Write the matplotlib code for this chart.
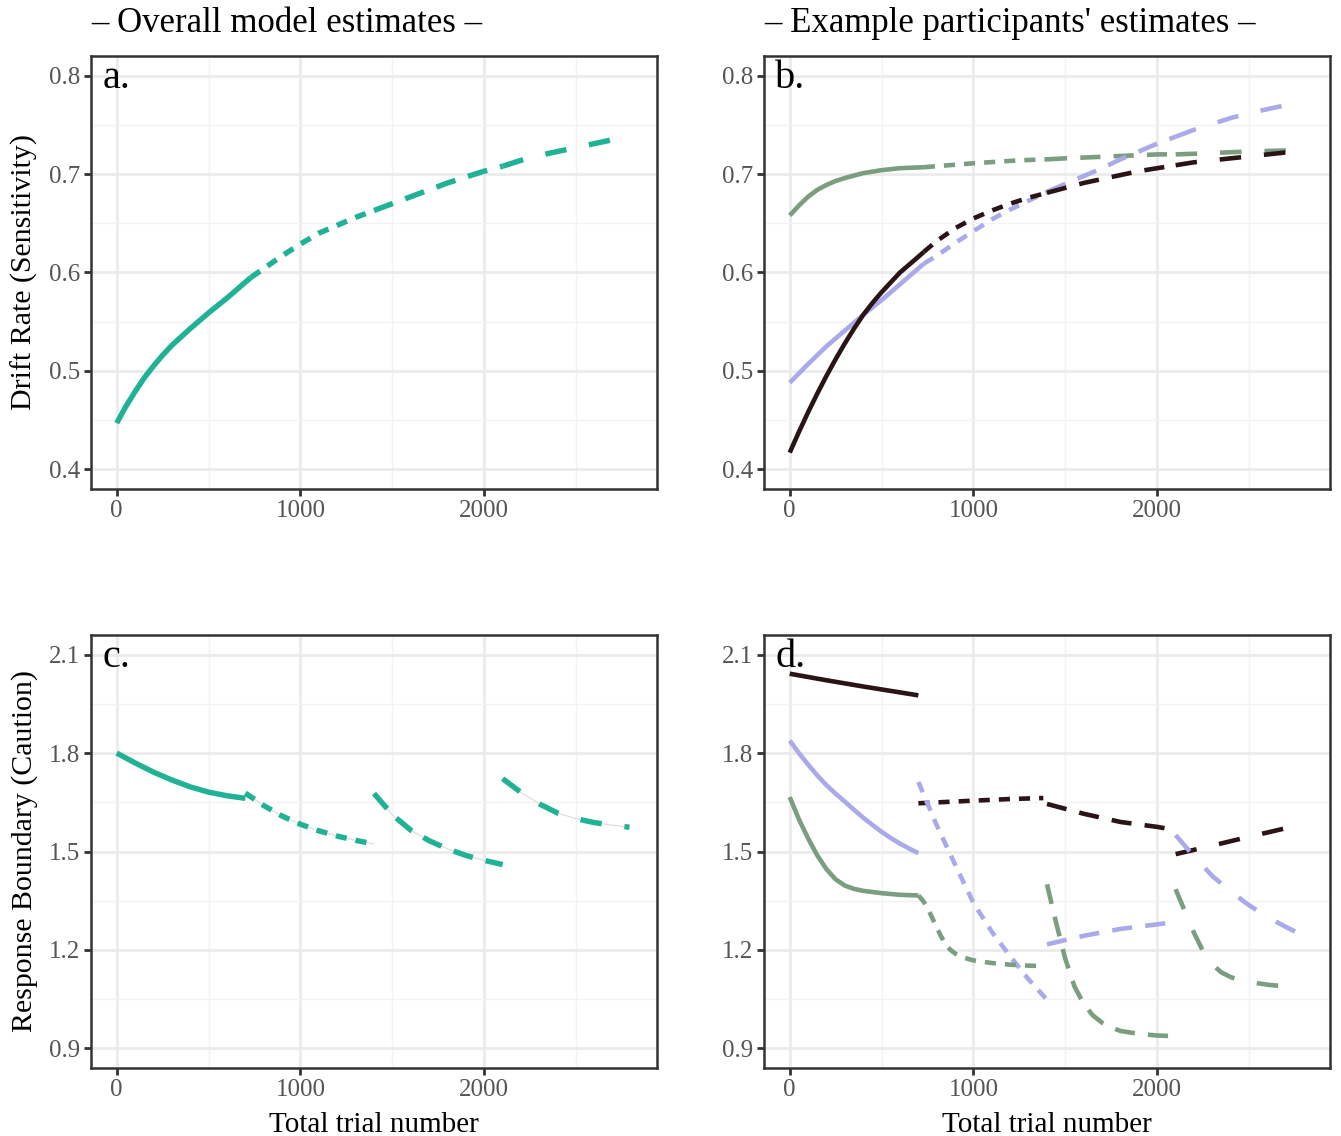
import matplotlib
matplotlib.use("Agg")
import matplotlib.pyplot as plt
from matplotlib.ticker import MultipleLocator

plt.rcParams['font.family'] = ['Liberation Serif', 'DejaVu Serif']
plt.rcParams['lines.scale_dashes'] = False

# --- colours
TEAL = '#1fb294'
GREEN = '#7a9e7f'
LAV = '#aaaaea'
DARK = '#2b1416'

# --- panel a: overall drift rate, one list per session
a_x1 = [0, 50, 100, 150, 200, 250, 300, 400, 500, 600, 730]
a_y1 = [0.447, 0.464, 0.479, 0.493, 0.505, 0.516, 0.526, 0.543, 0.559, 0.574, 0.595]
a_x2 = [730, 800, 900, 1000, 1100, 1200, 1300, 1400]
a_y2 = [0.595, 0.604, 0.617, 0.629, 0.640, 0.648, 0.656, 0.663]
a_x3 = [1400, 1500, 1600, 1700, 1800, 1900, 2000, 2100]
a_y3 = [0.663, 0.670, 0.677, 0.684, 0.691, 0.697, 0.703, 0.708]
a_x4 = [2100, 2200, 2300, 2400, 2500, 2600, 2700]
a_y4 = [0.708, 0.714, 0.719, 0.723, 0.727, 0.731, 0.735]

# --- panel b: participants' drift rate
b_green_x = [0, 50, 100, 150, 200, 250, 300, 400, 500, 600, 730,
             1000, 1250, 1400, 1500, 1750, 2000, 2100, 2250, 2500, 2700]
b_green_y = [0.658, 0.668, 0.677, 0.684, 0.689, 0.693, 0.696, 0.701, 0.704, 0.706, 0.707,
             0.711, 0.714, 0.715, 0.716, 0.718, 0.720, 0.720, 0.721, 0.723, 0.724]
b_lav_x = [0, 100, 200, 300, 400, 500, 600, 730,
           800, 900, 1000, 1100, 1200, 1300, 1400, 1500, 1600, 1700, 1800, 1900,
           2000, 2100, 2200, 2300, 2400, 2500, 2600, 2700]
b_lav_y = [0.488, 0.507, 0.525, 0.541, 0.557, 0.572, 0.588, 0.609,
           0.617, 0.630, 0.642, 0.654, 0.664, 0.673, 0.682, 0.690, 0.698, 0.706, 0.715, 0.723,
           0.731, 0.738, 0.745, 0.751, 0.757, 0.762, 0.766, 0.770]
b_dark_x = [0, 50, 100, 150, 200, 250, 300, 350, 400, 450, 500, 550, 600, 650, 700, 730,
            800, 900, 1000, 1100, 1200, 1300, 1400, 1500, 1600, 1700, 1800, 1900,
            2000, 2100, 2200, 2300, 2400, 2500, 2600, 2700]
b_dark_y = [0.417, 0.438, 0.458, 0.477, 0.495, 0.512, 0.528, 0.543, 0.557, 0.569, 0.580,
            0.590, 0.600, 0.608, 0.616, 0.621,
            0.632, 0.645, 0.655, 0.663, 0.670, 0.676, 0.681, 0.686, 0.691, 0.695, 0.699, 0.703,
            0.706, 0.709, 0.712, 0.714, 0.716, 0.718, 0.720, 0.722]
b_breaks = [0, 730, 1400, 2100, 2700]

# --- panel c: overall boundary, one list per session
c_x1 = [0, 100, 200, 300, 400, 500, 600, 700]
c_y1 = [1.800, 1.770, 1.742, 1.718, 1.697, 1.681, 1.670, 1.662]
c_x2 = [700, 800, 900, 1000, 1100, 1200, 1300, 1400]
c_y2 = [1.678, 1.640, 1.608, 1.583, 1.563, 1.547, 1.534, 1.523]
c_x3 = [1400, 1500, 1600, 1700, 1800, 1900, 2000, 2100]
c_y3 = [1.677, 1.612, 1.565, 1.533, 1.508, 1.488, 1.473, 1.460]
c_x4 = [2100, 2200, 2300, 2400, 2500, 2600, 2700, 2790]
c_y4 = [1.722, 1.680, 1.645, 1.617, 1.600, 1.588, 1.580, 1.574]

# --- panel d: participants' boundary, per session
d_dark = [
    ([0, 200, 400, 700], [2.042, 2.022, 2.003, 1.976]),
    ([700, 1000, 1200, 1380], [1.647, 1.655, 1.660, 1.663]),
    ([1400, 1600, 1800, 2000, 2080], [1.645, 1.615, 1.590, 1.575, 1.567]),
    ([2100, 2300, 2500, 2700], [1.492, 1.518, 1.545, 1.571]),
]
d_lav = [
    ([0, 50, 100, 150, 200, 250, 300, 350, 400, 450, 500, 550, 600, 650, 700],
     [1.838, 1.800, 1.765, 1.732, 1.702, 1.676, 1.652, 1.627, 1.603, 1.581, 1.560,
      1.541, 1.524, 1.509, 1.495]),
    ([700, 800, 900, 1000, 1100, 1200, 1300, 1400],
     [1.712, 1.580, 1.460, 1.343, 1.255, 1.180, 1.110, 1.048]),
    ([1400, 1600, 1800, 2000, 2100], [1.217, 1.243, 1.264, 1.278, 1.285]),
    ([2100, 2200, 2300, 2400, 2500, 2600, 2700, 2790],
     [1.550, 1.485, 1.425, 1.378, 1.336, 1.300, 1.270, 1.245]),
]
d_green = [
    ([0, 50, 100, 150, 200, 250, 300, 350, 400, 500, 600, 700],
     [1.666, 1.598, 1.540, 1.488, 1.446, 1.415, 1.396, 1.386, 1.380, 1.373, 1.368, 1.366]),
    ([700, 725, 750, 775, 800, 825, 850, 875, 900, 950, 1000, 1100, 1200, 1300, 1370],
     [1.366, 1.350, 1.328, 1.298, 1.268, 1.240, 1.215, 1.200, 1.189, 1.176, 1.168,
      1.160, 1.155, 1.152, 1.151]),
    ([1400, 1450, 1500, 1550, 1600, 1650, 1700, 1750, 1800, 1900, 2000, 2100],
     [1.400, 1.282, 1.172, 1.088, 1.035, 1.000, 0.978, 0.963, 0.953, 0.944, 0.939, 0.937]),
    ([2100, 2150, 2200, 2250, 2300, 2350, 2400, 2450, 2500, 2600, 2690],
     [1.385, 1.318, 1.252, 1.195, 1.155, 1.131, 1.117, 1.108, 1.102, 1.094, 1.089]),
]

# linetype per session (points)
STYLES = ['-', (0, (8, 6.5)), (0, (14.5, 9.5)), (0, (15.5, 16.5))]

fig = plt.figure(figsize=(13.41, 11.36), dpi=100)
L1, R1 = 91 / 1341, 657 / 1341
L2, R2 = 764 / 1341, 1330 / 1341
T1, B1 = 1 - 56 / 1136, 1 - 489 / 1136
T2, B2 = 1 - 635 / 1136, 1 - 1068 / 1136
ax_a = fig.add_axes([L1, B1, R1 - L1, T1 - B1])
ax_b = fig.add_axes([L2, B1, R2 - L2, T1 - B1])
ax_c = fig.add_axes([L1, B2, R1 - L1, T2 - B2])
ax_d = fig.add_axes([L2, B2, R2 - L2, T2 - B2])


def style_axes(ax, letter, top):
    ax.set_xlim(-140, 2940)
    if top:
        ax.set_ylim(0.38, 0.82)
        ax.yaxis.set_major_locator(MultipleLocator(0.1))
        ax.yaxis.set_minor_locator(MultipleLocator(0.05))
    else:
        ax.set_ylim(0.84, 2.16)
        ax.yaxis.set_major_locator(MultipleLocator(0.3))
        ax.yaxis.set_minor_locator(MultipleLocator(0.15))
    ax.xaxis.set_major_locator(MultipleLocator(1000))
    ax.xaxis.set_minor_locator(MultipleLocator(500))
    ax.grid(which='major', color='#ebebeb', lw=2.0, zorder=0)
    ax.grid(which='minor', color='#f3f3f3', lw=1.0, zorder=0)
    ax.set_axisbelow(True)
    for s in ax.spines.values():
        s.set_linewidth(1.8)
        s.set_color('#333333')
    ax.tick_params(which='major', length=5, width=2, color='#333333',
                   labelsize=18, labelcolor='#555555', pad=3)
    ax.tick_params(which='minor', length=0)
    ax.text(0.02, 0.99, letter, transform=ax.transAxes, ha='left', va='top',
            fontsize=29, color='black')


def draw_sessions(ax, sessions, color, lw):
    for (xs, ys), ls in zip(sessions, STYLES):
        ax.plot(xs, ys, color=color, lw=lw, ls=ls, solid_capstyle='butt',
                dash_capstyle='butt', zorder=3)


def split(xs, ys, breaks):
    out = []
    for lo, hi in zip(breaks[:-1], breaks[1:]):
        sx = [x for x in xs if lo <= x <= hi]
        sy = [y for x, y in zip(xs, ys) if lo <= x <= hi]
        out.append((sx, sy))
    return out


# panel a
draw_sessions(ax_a, [(a_x1, a_y1), (a_x2, a_y2), (a_x3, a_y3), (a_x4, a_y4)], TEAL, 3.9)
style_axes(ax_a, 'a.', True)
ax_a.set_ylabel('Drift Rate (Sensitivity)', fontsize=21.5)
ax_a.yaxis.set_label_coords(-0.094, 0.5)

# panel b
draw_sessions(ax_b, split(b_green_x, b_green_y, b_breaks), GREEN, 3.3)
draw_sessions(ax_b, split(b_lav_x, b_lav_y, b_breaks), LAV, 3.3)
draw_sessions(ax_b, split(b_dark_x, b_dark_y, b_breaks), DARK, 3.3)
style_axes(ax_b, 'b.', True)

# panel c
c_sessions = [(c_x1, c_y1), (c_x2, c_y2), (c_x3, c_y3), (c_x4, c_y4)]
for xs, ys in c_sessions[1:]:
    ax_c.plot(xs, ys, color='#dcdcdc', lw=0.8, zorder=2)
draw_sessions(ax_c, c_sessions, TEAL, 3.9)
style_axes(ax_c, 'c.', False)
ax_c.set_ylabel('Response Boundary (Caution)', fontsize=21.5)
ax_c.yaxis.set_label_coords(-0.094, 0.5)
ax_c.set_xlabel('Total trial number', fontsize=21, labelpad=8)

# panel d
draw_sessions(ax_d, d_dark, DARK, 3.3)
draw_sessions(ax_d, d_lav, LAV, 3.3)
draw_sessions(ax_d, d_green, GREEN, 3.3)
style_axes(ax_d, 'd.', False)
ax_d.set_xlabel('Total trial number', fontsize=21, labelpad=8)

# column titles
fig.text(L1, 1 - 23 / 1136, '\u2013 Overall model estimates \u2013', fontsize=25,
         ha='left', va='center')
fig.text(L2, 1 - 23 / 1136, "\u2013 Example participants' estimates \u2013", fontsize=25,
         ha='left', va='center')

fig.savefig('out.png', dpi=100, facecolor='white')
